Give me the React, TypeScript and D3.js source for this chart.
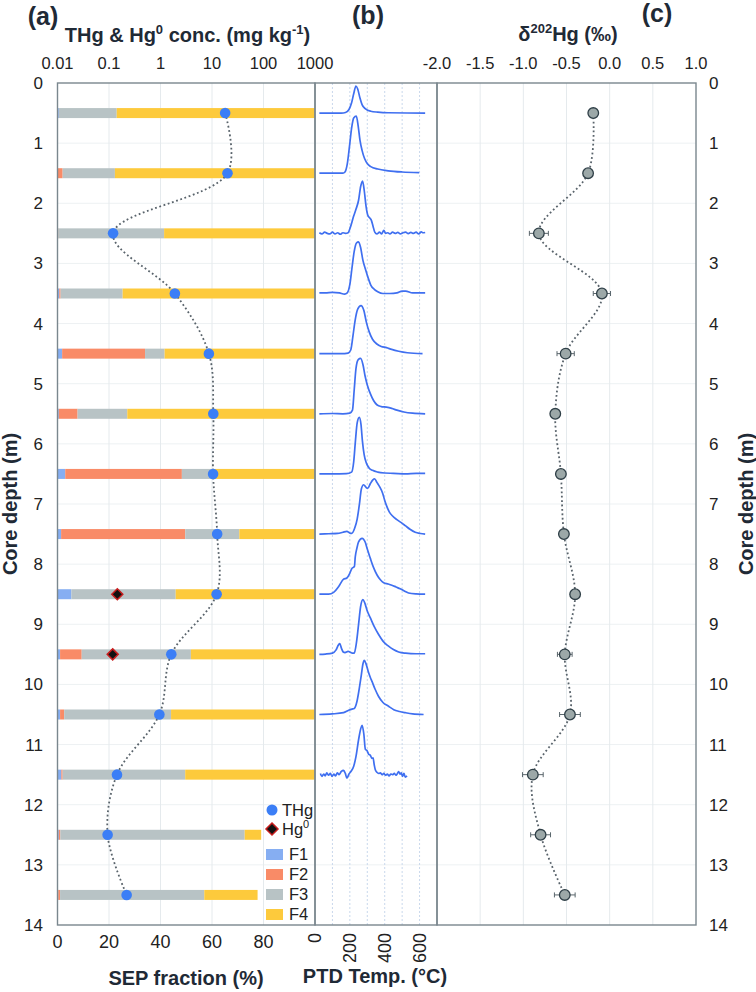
import React from 'react';
import * as d3 from 'd3';

// ---------- data ----------
const depths = [0.5, 1.5, 2.5, 3.5, 4.5, 5.5, 6.5, 7.5, 8.5, 9.5, 10.5, 11.5, 12.5, 13.5];
const sepF1 = [0.5, 0, 0, 0.7, 1.8, 0.5, 3, 1.4, 5.4, 1, 1, 1.5, 0.5, 0.3];
const sepF2 = [0, 2, 0.3, 0.5, 32.2, 7.3, 45.3, 48.2, 0, 8.4, 1.6, 0.5, 0.6, 0.7];
const sepF3 = [22.5, 20.3, 41.1, 24.1, 7.6, 19.3, 12.2, 21.0, 40.5, 42.4, 41.5, 47.6, 71.6, 56];
const sepF4 = [77, 77.7, 58.6, 74.7, 58.4, 72.9, 39.5, 29.4, 54.1, 48.2, 55.9, 50.4, 6.4, 20.7];
const thg = [18, 20, 0.12, 1.9, 8.7, 10.6, 10.5, 12.6, 12.3, 1.62, 0.95, 0.143, 0.094, 0.22];
const hg0Depths = [8.5, 9.5];
const hg0 = [0.145, 0.118];
const delta202 = [-0.19, -0.25, -0.82, -0.09, -0.51, -0.63, -0.565, -0.53, -0.4, -0.52, -0.46, -0.89, -0.8, -0.52];
const delta202Err = [0.04, 0.05, 0.11, 0.1, 0.1, 0.05, 0.05, 0.05, 0.05, 0.085, 0.12, 0.12, 0.115, 0.12];

const depthTicks = [0, 1, 2, 3, 4, 5, 6, 7, 8, 9, 10, 11, 12, 13, 14];
const concTicks = [0.01, 0.1, 1, 10, 100, 1000];
const concLabels = ['0.01', '0.1', '1', '10', '100', '1000'];
const sepTicks = [0, 20, 40, 60, 80];
const ptdTicks = [0, 200, 400, 600];
const ptdGrid = [100, 200, 300, 400, 500, 600];
const deltaTicks = [-2, -1.5, -1, -0.5, 0, 0.5, 1];
const deltaLabels = ['-2.0', '-1.5', '-1.0', '-0.5', '0.0', '0.5', '1.0'];

const ptdDepths = [0.5, 1.5, 2.5, 3.5, 4.5, 5.5, 6.5, 7.5, 8.5, 9.5, 10.5, 11.5];
// [temperature °C, signal height in m above baseline]
const ptdCurves: [number, number][][] = [
  [[25,0],[150,0],[175,0.01],[195,0.06],[210,0.17],[222,0.32],[235,0.45],[245,0.4],[258,0.25],[270,0.14],[290,0.07],[320,0.03],[360,0.015],[420,0.005],[632,0]],
  [[25,0],[160,0],[172,0.02],[185,0.15],[198,0.45],[210,0.75],[222,0.92],[237,0.95],[248,0.78],[258,0.55],[270,0.38],[285,0.24],[300,0.16],[320,0.11],[360,0.07],[420,0.04],[500,0.02],[598,0.01]],
  [[25,0.01],[40,-0.01],[55,0.02],[70,0],[85,-0.01],[100,0.02],[115,-0.01],[130,0.01],[145,-0.015],[160,0.01],[175,0],[190,0.01],[205,0.12],[220,0.27],[235,0.4],[250,0.55],[262,0.78],[273,0.87],[283,0.7],[293,0.45],[303,0.3],[313,0.26],[323,0.22],[333,0.12],[343,0.02],[355,-0.01],[370,0.02],[382,-0.01],[395,0.05],[405,0],[418,0.01],[430,-0.01],[445,0.02],[460,0],[475,0.015],[490,-0.01],[505,0.01],[520,0.02],[535,-0.005],[550,0.015],[565,0],[580,0.02],[595,-0.01],[610,0.025],[620,0.01],[632,0.015]],
  [[25,0.01],[60,0.01],[100,0.02],[140,0.01],[170,-0.01],[185,0.01],[200,0.15],[212,0.42],[225,0.7],[238,0.84],[250,0.86],[262,0.76],[275,0.55],[290,0.4],[305,0.26],[320,0.14],[340,0.07],[360,0.03],[390,0],[430,0],[470,0.01],[500,0.04],[520,0.04],[560,0.01],[632,0.01]],
  [[25,0],[150,0],[190,0.01],[205,0.06],[218,0.3],[230,0.55],[245,0.74],[264,0.8],[280,0.72],[295,0.52],[310,0.37],[330,0.24],[355,0.16],[380,0.12],[410,0.1],[440,0.07],[480,0.04],[530,0.015],[617,0]],
  [[25,0],[100,0.005],[160,0],[200,0.01],[215,0.06],[225,0.4],[235,0.75],[248,0.9],[262,0.92],[275,0.82],[288,0.62],[300,0.48],[318,0.33],[336,0.22],[355,0.15],[380,0.12],[410,0.11],[440,0.09],[470,0.06],[510,0.03],[560,0.01],[632,0]],
  [[25,0],[100,0],[180,0.005],[210,0.03],[222,0.2],[232,0.55],[242,0.85],[254,0.94],[264,0.82],[272,0.55],[282,0.32],[295,0.18],[310,0.1],[330,0.06],[360,0.03],[400,0.015],[450,0.01],[520,0],[580,0.01],[632,0.01]],
  [[25,0],[80,0.005],[130,0.01],[160,0.03],[183,0.045],[198,0.02],[210,0.01],[228,0.1],[242,0.25],[255,0.5],[266,0.75],[279,0.82],[292,0.78],[302,0.76],[318,0.84],[332,0.9],[342,0.92],[355,0.86],[372,0.78],[388,0.68],[400,0.56],[412,0.46],[426,0.37],[445,0.3],[470,0.24],[495,0.19],[518,0.14],[545,0.08],[575,0.03],[605,0.01],[632,0]],
  [[25,0],[78,0],[107,0.03],[136,0.13],[164,0.25],[183,0.27],[200,0.35],[212,0.43],[226,0.46],[231,0.62],[240,0.76],[250,0.87],[270,0.93],[289,0.86],[300,0.75],[317,0.6],[335,0.45],[356,0.32],[375,0.24],[394,0.19],[420,0.17],[441,0.15],[465,0.12],[489,0.09],[515,0.05],[537,0.02],[580,0.005],[632,0]],
  [[25,0],[60,0.005],[100,0.02],[120,0.07],[135,0.16],[142,0.18],[152,0.1],[162,0.04],[172,0.03],[190,0.05],[200,0.04],[215,0.02],[225,0.02],[238,0.2],[250,0.5],[262,0.8],[275,0.91],[285,0.86],[300,0.72],[317,0.61],[340,0.46],[365,0.33],[390,0.22],[420,0.14],[450,0.08],[480,0.04],[520,0.02],[580,0.01],[632,0.01]],
  [[25,0],[98,0.01],[164,0.03],[193,0.07],[212,0.09],[225,0.1],[241,0.22],[255,0.45],[266,0.66],[275,0.84],[283,0.9],[292,0.85],[305,0.72],[317,0.62],[327,0.55],[345,0.42],[365,0.3],[390,0.2],[420,0.14],[452,0.08],[485,0.05],[518,0.03],[560,0.01],[623,0]],
  [[31,0.02],[40,-0.03],[50,0.01],[58,-0.02],[68,0.03],[78,-0.01],[88,0.02],[98,-0.03],[108,0.01],[118,-0.02],[128,0.03],[138,0],[150,0.05],[164,0.07],[174,0.02],[183,-0.06],[195,0.01],[208,0.06],[222,0.14],[235,0.3],[250,0.58],[262,0.76],[270,0.82],[280,0.68],[289,0.42],[298,0.4],[308,0.34],[318,0.32],[326,0.27],[333,0.28],[340,0.16],[346,0.08],[355,0.04],[365,0.02],[375,0.03],[385,0],[395,0.02],[405,-0.01],[415,0.01],[425,-0.02],[435,0.01],[445,0],[455,0.02],[465,-0.01],[475,0.03],[480,0.05],[488,0.01],[495,0.03],[502,-0.03],[510,0.02],[518,-0.04],[528,-0.02]],
];

const sepSeries = [
  { key: 'F1', values: sepF1, color: '#86aef2' },
  { key: 'F2', values: sepF2, color: '#f98b67' },
  { key: 'F3', values: sepF3, color: '#b8c3c5' },
  { key: 'F4', values: sepF4, color: '#fdca3c' },
];

// ---------- layout ----------
const W = 756, H = 992;
const TOP = 83, BOT = 925;
const AL = 57.5, AR = 315, BR = 437, CR = 696;
const FRAME = '#7a878e';
const TXT = '#222';
const TITLE = '#1f2a36';
const FONT = "'Liberation Sans', Arial, Helvetica, sans-serif";

export default function App() {
  const yD = d3.scaleLinear().domain([0, 14]).range([TOP, BOT]);
  const xConc = d3.scaleLog().domain([0.01, 1000]).range([AL, AR]);
  const xSep = d3.scaleLinear().domain([0, 100]).range([AL, AR]);
  const xT = d3.scaleLinear().domain([0, 700]).range([AR, BR]);
  const xDel = d3.scaleLinear().domain([-2, 1]).range([BR, CR]);

  const thgLine = d3.line<number>()
    .x((i) => xConc(thg[i]))
    .y((i) => yD(depths[i]))
    .curve(d3.curveCatmullRom.alpha(0.5));
  const delLine = d3.line<number>()
    .x((i) => xDel(delta202[i]))
    .y((i) => yD(depths[i]))
    .curve(d3.curveCatmullRom.alpha(0.5));
  const idx = depths.map((_, i) => i);

  const barH = 10;

  const diamond = (cx: number, cy: number, r: number) =>
    `M${cx},${cy - r}L${cx + r},${cy}L${cx},${cy + r}L${cx - r},${cy}Z`;

  return (
    <div style={{ position: 'absolute', left: 0, top: 0 }}>
      <svg width={W} height={H} fontFamily={FONT} style={{ display: 'block', background: '#fff' }}>
        {/* horizontal gridlines */}
        {depthTicks.slice(1, -1).map((d) => (
          <line key={'hg' + d} x1={AL} x2={CR} y1={yD(d)} y2={yD(d)} stroke="#edf1f3" strokeWidth={1} />
        ))}
        {/* panel a vertical gridlines */}
        {concTicks.slice(1, -1).map((v) => (
          <line key={'ca' + v} x1={xConc(v)} x2={xConc(v)} y1={TOP} y2={BOT} stroke="#e5eaed" strokeWidth={1} />
        ))}
        {/* panel b gridlines */}
        {ptdGrid.map((t) => (
          <line key={'pb' + t} x1={xT(t)} x2={xT(t)} y1={TOP} y2={BOT} stroke="#c9d8ec" strokeWidth={1} strokeDasharray="2,2" />
        ))}
        {/* panel c gridlines */}
        {deltaTicks.slice(1, -1).map((v) => (
          <line key={'dc' + v} x1={xDel(v)} x2={xDel(v)} y1={TOP} y2={BOT} stroke="#e5eaed" strokeWidth={1} />
        ))}

        {/* SEP stacked bars */}
        {depths.map((d, i) => {
          let cum = 0;
          return (
            <g key={'bar' + i}>
              {sepSeries.map((s) => {
                const v = s.values[i];
                const x0 = xSep(cum);
                cum += v;
                const x1 = xSep(cum);
                if (v <= 0) return null;
                return (
                  <rect key={s.key} x={x0} y={yD(d) - barH / 2} width={x1 - x0} height={barH} fill={s.color} />
                );
              })}
            </g>
          );
        })}

        {/* THg dotted line + points */}
        <path d={thgLine(idx) || ''} fill="none" stroke="#59636b" strokeWidth={1.8} strokeDasharray="1.8,2.6" />
        {depths.map((d, i) => (
          <circle key={'thg' + i} cx={xConc(thg[i])} cy={yD(d)} r={5.3} fill="#3b7ef6" />
        ))}
        {hg0Depths.map((d, i) => (
          <path key={'hg0' + i} d={diamond(xConc(hg0[i]), yD(d), 5.5)} fill="#111" stroke="#c81e1e" strokeWidth={1.5} />
        ))}

        {/* legend */}
        <g fontSize={16.5} fill={TXT}>
          <circle cx={272} cy={810} r={5.5} fill="#3b7ef6" />
          <text x={282} y={816}>THg</text>
          <path d={diamond(272, 829, 6)} fill="#111" stroke="#c81e1e" strokeWidth={1.5} />
          <text x={282} y={835}>Hg<tspan dy={-7} fontSize={11}>0</tspan></text>
          {sepSeries.map((s, k) => (
            <g key={'lg' + s.key}>
              <rect x={266} y={849 + k * 20} width={17} height={11} fill={s.color} />
              <text x={289} y={860 + k * 20}>{s.key}</text>
            </g>
          ))}
        </g>

        {/* PTD curves */}
        {ptdCurves.map((c, i) => {
          const line = d3.line<[number, number]>()
            .x((p) => xT(p[0]))
            .y((p) => yD(ptdDepths[i] - p[1]))
            .curve(d3.curveMonotoneX);
          return <path key={'ptd' + i} d={line(c) || ''} fill="none" stroke="#3f6ff0" strokeWidth={1.7} strokeLinejoin="round" />;
        })}

        {/* delta202Hg */}
        <path d={delLine(idx) || ''} fill="none" stroke="#59636b" strokeWidth={1.8} strokeDasharray="1.8,2.6" />
        {depths.map((d, i) => {
          const y = yD(d);
          const xa = xDel(delta202[i] - delta202Err[i]);
          const xb = xDel(delta202[i] + delta202Err[i]);
          return (
            <g key={'eb' + i} stroke="#5a666c" strokeWidth={1}>
              <line x1={xa} x2={xb} y1={y} y2={y} />
              <line x1={xa} x2={xa} y1={y - 2.5} y2={y + 2.5} />
              <line x1={xb} x2={xb} y1={y - 2.5} y2={y + 2.5} />
            </g>
          );
        })}
        {depths.map((d, i) => (
          <circle key={'del' + i} cx={xDel(delta202[i])} cy={yD(d)} r={5.3} fill="#9ca8a8" stroke="#2f3f47" strokeWidth={1.3} />
        ))}

        {/* frames */}
        <rect x={AL} y={TOP} width={AR - AL} height={BOT - TOP} fill="none" stroke={FRAME} strokeWidth={1.4} />
        <rect x={AR} y={TOP} width={BR - AR} height={BOT - TOP} fill="none" stroke={FRAME} strokeWidth={1.4} />
        <rect x={BR} y={TOP} width={CR - BR} height={BOT - TOP} fill="none" stroke={FRAME} strokeWidth={1.4} />

        {/* left depth axis labels */}
        <g fontSize={17} fill={TXT}>
          {depthTicks.map((d) => (
            <text key={'ly' + d} x={43} y={yD(d)} dy="0.35em" textAnchor="end">{d}</text>
          ))}
          {depthTicks.map((d) => (
            <text key={'ry' + d} x={709} y={yD(d)} dy="0.35em" textAnchor="start">{d}</text>
          ))}
        </g>

        {/* top axes labels */}
        <g fontSize={16.5} fill={TXT} textAnchor="middle">
          {concTicks.map((v, k) => (
            <text key={'ct' + v} x={xConc(v)} y={69}>{concLabels[k]}</text>
          ))}
          {deltaTicks.map((v, k) => (
            <text key={'dt' + v} x={xDel(v)} y={69}>{deltaLabels[k]}</text>
          ))}
        </g>

        {/* bottom axes labels */}
        <g fontSize={18} fill={TXT}>
          {sepTicks.map((v) => (
            <text key={'st' + v} x={xSep(v)} y={948} textAnchor="middle">{v}</text>
          ))}
          {ptdTicks.map((t) => (
            <text key={'pt' + t} transform={`translate(${xT(t)},933) rotate(-90)`} dy="0.35em" textAnchor="end">{t}</text>
          ))}
        </g>

        {/* titles */}
        <g fill={TITLE} fontWeight="bold">
          <text x={43} y={25} fontSize={25} textAnchor="middle">(a)</text>
          <text x={368} y={24} fontSize={25} textAnchor="middle">(b)</text>
          <text x={657} y={22} fontSize={25} textAnchor="middle">(c)</text>
          <text x={187.5} y={42} fontSize={20} textAnchor="middle">
            THg &amp; Hg<tspan dy={-8} fontSize={13}>0</tspan><tspan dy={8}> conc. (mg kg</tspan><tspan dy={-8} fontSize={13}>-1</tspan><tspan dy={8}>)</tspan>
          </text>
          <text x={568} y={41} fontSize={20} textAnchor="middle">
            δ<tspan dy={-8} fontSize={13}>202</tspan><tspan dy={8}>Hg (‰)</tspan>
          </text>
          <text x={186} y={985} fontSize={20} textAnchor="middle">SEP fraction (%)</text>
          <text x={375} y={983} fontSize={20} textAnchor="middle">PTD Temp. (°C)</text>
          <text transform={`translate(17,${(TOP + BOT) / 2}) rotate(-90)`} fontSize={20} textAnchor="middle">Core depth (m)</text>
          <text transform={`translate(753,${(TOP + BOT) / 2}) rotate(-90)`} fontSize={20} textAnchor="middle">Core depth (m)</text>
        </g>
      </svg>
    </div>
  );
}
